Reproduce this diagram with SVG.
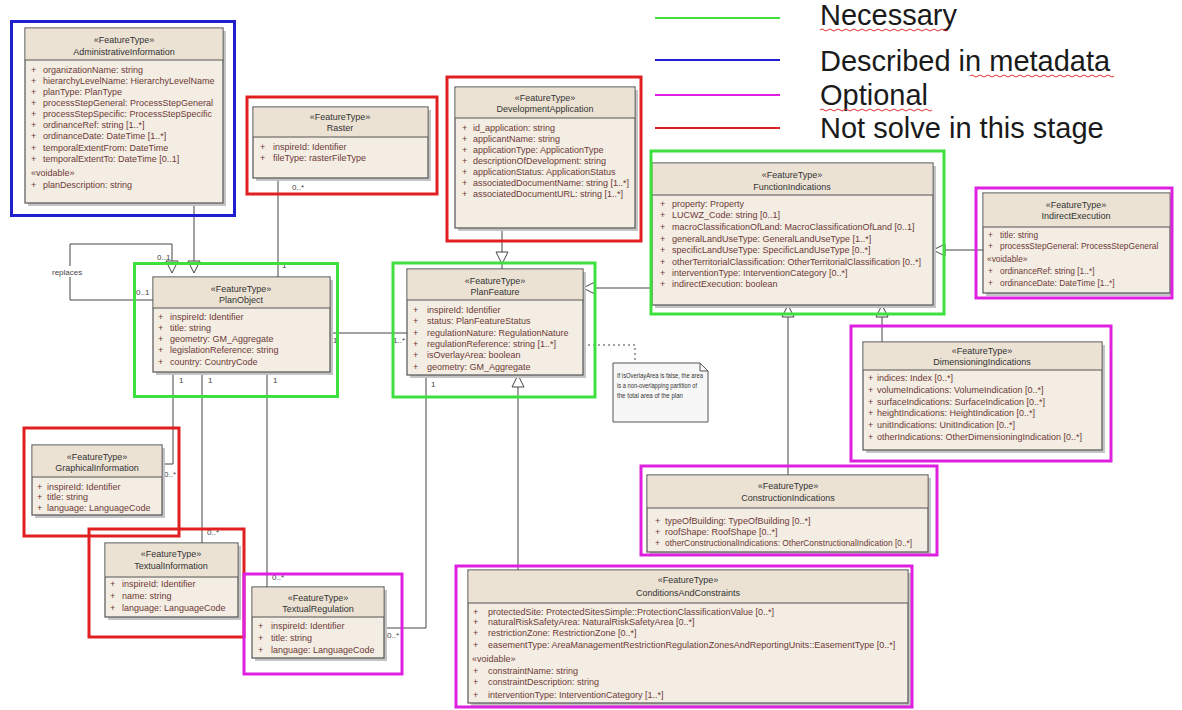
<svg xmlns="http://www.w3.org/2000/svg" width="1182" height="710" viewBox="0 0 1182 710">
<style>
.frame{fill:none;stroke-width:3}
.g{stroke:#3ee03e}.b{stroke:#1f1fd0}.m{stroke:#e020e0}.r{stroke:#e02020}
.body{fill:#f3ede4;stroke:#555;stroke-width:1.2}
.hdr{fill:#ebe2d4;stroke:none}
.sep{stroke:#555;stroke-width:1}
.sh{fill:#c4c4c4}
.st,.nm{font-family:"Liberation Sans",Arial,sans-serif;font-size:9px;fill:#333;text-anchor:middle}
.at{font-family:"Liberation Sans",Arial,sans-serif;font-size:9px;fill:#6e3a36}
.sm{font-size:8.4px}
.ln{fill:none;stroke:#444;stroke-width:1}
.dot{fill:none;stroke:#444;stroke-width:1;stroke-dasharray:2 3}
.tri{fill:#fff;stroke:#444;stroke-width:1}
.lbl{font-family:"Liberation Sans",Arial,sans-serif;font-size:8px;fill:#444}
.leg{font-family:"Liberation Sans",Arial,sans-serif;font-size:29px;fill:#1a1a1a}
.note{font-family:"Liberation Sans",Arial,sans-serif;font-size:6.5px;fill:#333}
.sq{fill:none;stroke:#e03030;stroke-width:1}
</style>
<rect width="1182" height="710" fill="#ffffff"/>

<g id="legend">
<line x1="655" y1="18" x2="780" y2="18" stroke="#3ee03e" stroke-width="2"/>
<line x1="655" y1="60" x2="780" y2="60" stroke="#1f1fd0" stroke-width="2"/>
<line x1="655" y1="95" x2="780" y2="95" stroke="#e020e0" stroke-width="2"/>
<line x1="655" y1="128" x2="780" y2="128" stroke="#e02020" stroke-width="2"/>
<text class="leg" x="820" y="25">Necessary</text>
<text class="leg" x="820" y="71">Described in metadata</text>
<text class="leg" x="820" y="105">Optional</text>
<text class="leg" x="820" y="138">Not solve in this stage</text>
<path class="sq" d="M820,30 q2,-2 4,0 t4,0 t4,0 t4,0 t4,0 t4,0 t4,0 t4,0 t4,0 t4,0 t4,0 t4,0 t4,0 t4,0 t4,0 t4,0 t4,0 t4,0 t4,0 t4,0 t4,0 t4,0 t4,0 t4,0 t4,0 t4,0 t4,0 t4,0 t4,0 t4,0 t4,0 t4,0"/>
<path class="sq" d="M970,76 q2,-2 4,0 t4,0 t4,0 t4,0 t4,0 t4,0 t4,0 t4,0 t4,0 t4,0 t4,0 t4,0 t4,0 t4,0 t4,0 t4,0 t4,0 t4,0 t4,0 t4,0 t4,0 t4,0 t4,0 t4,0 t4,0 t4,0 t4,0 t4,0 t4,0 t4,0 t4,0 t4,0 t4,0 t4,0 t4,0 t4,0"/>
<path class="sq" d="M820,110 q2,-2 4,0 t4,0 t4,0 t4,0 t4,0 t4,0 t4,0 t4,0 t4,0 t4,0 t4,0 t4,0 t4,0 t4,0 t4,0 t4,0 t4,0 t4,0 t4,0 t4,0 t4,0 t4,0 t4,0 t4,0 t4,0 t4,0 t4,0 t4,0"/>
</g>

<g id="connectors">
<path class="ln" d="M153,300 H70 V244 H172 V261"/>
<polygon class="tri" points="166,261 178,261 172,273"/>
<rect x="50" y="266" width="40" height="11" fill="#fff"/>
<text class="lbl" x="52" y="275">replaces</text>
<text class="lbl" x="157" y="260">0..1</text>
<text class="lbl" x="136" y="295">0..1</text>
<path class="ln" d="M194,203 V261"/>
<polygon class="tri" points="188,261 200,261 194,273"/>
<path class="ln" d="M278,178 V277"/>
<text class="lbl" x="292" y="190">0..*</text>
<text class="lbl" x="282" y="268">1</text>
<path class="ln" d="M502,228 V252 M502,264 V269"/>
<polygon class="tri" points="496,252 508,252 502,264"/>
<path class="ln" d="M652,288 H595"/>
<polygon class="tri" points="583,288 595,282 595,294"/>
<path class="ln" d="M983,250 H945"/>
<polygon class="tri" points="933,250 945,244 945,256"/>
<path class="ln" d="M788,475 V317"/>
<polygon class="tri" points="788,305 782,317 794,317"/>
<path class="ln" d="M882,342 V317"/>
<polygon class="tri" points="882,305 876,317 888,317"/>
<path class="ln" d="M330,333 H407"/>
<text class="lbl" x="333" y="343">1</text>
<text class="lbl" x="393" y="343">1..*</text>
<path class="dot" d="M583,345 H635 V363"/>
<path class="ln" d="M518,570 V387"/>
<polygon class="tri" points="518,375 512,387 524,387"/>
<path class="ln" d="M426,375 V628 H384"/>
<text class="lbl" x="431" y="387">1</text>
<text class="lbl" x="387" y="638">0..*</text>
<path class="ln" d="M173,372 V464 H162"/>
<text class="lbl" x="179" y="383">1</text>
<text class="lbl" x="164" y="477">0..*</text>
<path class="ln" d="M202,372 V543"/>
<text class="lbl" x="208" y="383">1</text>
<text class="lbl" x="207" y="535">0..*</text>
<path class="ln" d="M267,372 V587"/>
<text class="lbl" x="273" y="383">1</text>
<text class="lbl" x="272" y="580">0..*</text>
</g>

<g id="AdministrativeInformation">
<rect class="sh" x="28" y="31" width="198" height="175"/>
<rect class="body" x="25" y="28" width="198" height="175"/>
<rect class="hdr" x="25.6" y="28.6" width="196.8" height="31.4"/>
<line class="sep" x1="25" y1="60" x2="223" y2="60"/>
<text class="st" x="124" y="43">«FeatureType»</text>
<text class="nm" x="124" y="55">AdministrativeInformation</text>
<text class="at" y="73"><tspan x="31">+</tspan><tspan x="43">organizationName: string</tspan></text>
<text class="at" y="84"><tspan x="31">+</tspan><tspan x="43">hierarchyLevelName: HierarchyLevelName</tspan></text>
<text class="at" y="95"><tspan x="31">+</tspan><tspan x="43">planType: PlanType</tspan></text>
<text class="at" y="106"><tspan x="31">+</tspan><tspan x="43">processStepGeneral: ProcessStepGeneral</tspan></text>
<text class="at" y="117"><tspan x="31">+</tspan><tspan x="43">processStepSpecific: ProcessStepSpecific</tspan></text>
<text class="at" y="128"><tspan x="31">+</tspan><tspan x="43">ordinanceRef: string [1..*]</tspan></text>
<text class="at" y="139"><tspan x="31">+</tspan><tspan x="43">ordinanceDate: DateTime [1..*]</tspan></text>
<text class="at" y="151"><tspan x="31">+</tspan><tspan x="43">temporalExtentFrom: DateTime</tspan></text>
<text class="at" y="162"><tspan x="31">+</tspan><tspan x="43">temporalExtentTo: DateTime [0..1]</tspan></text>
<text class="at" x="31" y="176">«voidable»</text>
<text class="at" y="188"><tspan x="31">+</tspan><tspan x="43">planDescription: string</tspan></text>
</g>

<g id="Raster">
<rect class="sh" x="256" y="110" width="175" height="71"/>
<rect class="body" x="253" y="107" width="175" height="71"/>
<rect class="hdr" x="253.6" y="107.6" width="173.8" height="29.4"/>
<line class="sep" x1="253" y1="137" x2="428" y2="137"/>
<text class="st" x="340" y="120">«FeatureType»</text>
<text class="nm" x="340" y="131">Raster</text>
<text class="at" y="150"><tspan x="260">+</tspan><tspan x="273">inspireId: Identifier</tspan></text>
<text class="at" y="161"><tspan x="260">+</tspan><tspan x="273">fileType: rasterFileType</tspan></text>
</g>

<g id="DevelopmentApplication">
<rect class="sh" x="458" y="90" width="180" height="141"/>
<rect class="body" x="455" y="87" width="180" height="141"/>
<rect class="hdr" x="455.6" y="87.6" width="178.8" height="30.4"/>
<line class="sep" x1="455" y1="118" x2="635" y2="118"/>
<text class="st" x="545" y="101">«FeatureType»</text>
<text class="nm" x="545" y="112">DevelopmentApplication</text>
<text class="at" y="131"><tspan x="462">+</tspan><tspan x="473">id_application: string</tspan></text>
<text class="at" y="142"><tspan x="462">+</tspan><tspan x="473">applicantName: string</tspan></text>
<text class="at" y="153"><tspan x="462">+</tspan><tspan x="473">applicationType: ApplicationType</tspan></text>
<text class="at" y="164"><tspan x="462">+</tspan><tspan x="473">descriptionOfDevelopment: string</tspan></text>
<text class="at" y="175"><tspan x="462">+</tspan><tspan x="473">applicationStatus: ApplicationStatus</tspan></text>
<text class="at" y="186"><tspan x="462">+</tspan><tspan x="473">associatedDocumentName: string [1..*]</tspan></text>
<text class="at" y="197"><tspan x="462">+</tspan><tspan x="473">associatedDocumentURL: string [1..*]</tspan></text>
</g>

<g id="FunctionIndications">
<rect class="sh" x="655" y="166" width="281" height="142"/>
<rect class="body" x="652" y="163" width="281" height="142"/>
<rect class="hdr" x="652.6" y="163.6" width="279.8" height="31.4"/>
<line class="sep" x1="652" y1="195" x2="933" y2="195"/>
<text class="st" x="792" y="178">«FeatureType»</text>
<text class="nm" x="792" y="190">FunctionIndications</text>
<text class="at" y="207"><tspan x="660">+</tspan><tspan x="672">property: Property</tspan></text>
<text class="at" y="218"><tspan x="660">+</tspan><tspan x="672">LUCWZ_Code: string [0..1]</tspan></text>
<text class="at" y="230"><tspan x="660">+</tspan><tspan x="672">macroClassificationOfLand: MacroClassificationOfLand [0..1]</tspan></text>
<text class="at" y="242"><tspan x="660">+</tspan><tspan x="672">generalLandUseType: GeneralLandUseType [1..*]</tspan></text>
<text class="at" y="253"><tspan x="660">+</tspan><tspan x="672">specificLandUseType: SpecificLandUseType [0..*]</tspan></text>
<text class="at" y="265"><tspan x="660">+</tspan><tspan x="672">otherTerritorialClassification: OtherTerritorialClassification [0..*]</tspan></text>
<text class="at" y="276"><tspan x="660">+</tspan><tspan x="672">interventionType: InterventionCategory [0..*]</tspan></text>
<text class="at" y="287"><tspan x="660">+</tspan><tspan x="672">indirectExecution: boolean</tspan></text>
</g>

<g id="IndirectExecution">
<rect class="sh" x="986" y="196" width="187" height="100"/>
<rect class="body" x="983" y="193" width="187" height="100"/>
<rect class="hdr" x="983.6" y="193.6" width="185.8" height="33.4"/>
<line class="sep" x1="983" y1="227" x2="1170" y2="227"/>
<text class="st" x="1076" y="208">«FeatureType»</text>
<text class="nm" x="1076" y="219">IndirectExecution</text>
<text class="at sm" y="238"><tspan x="988">+</tspan><tspan x="1000">title: string</tspan></text>
<text class="at sm" y="249"><tspan x="988">+</tspan><tspan x="1000">processStepGeneral: ProcessStepGeneral</tspan></text>
<text class="at sm" x="987" y="262">«voidable»</text>
<text class="at sm" y="274"><tspan x="988">+</tspan><tspan x="1000">ordinanceRef: string [1..*]</tspan></text>
<text class="at sm" y="286"><tspan x="988">+</tspan><tspan x="1000">ordinanceDate: DateTime [1..*]</tspan></text>
</g>

<g id="PlanObject">
<rect class="sh" x="156" y="280" width="177" height="95"/>
<rect class="body" x="153" y="277" width="177" height="95"/>
<rect class="hdr" x="153.6" y="277.6" width="175.8" height="30.4"/>
<line class="sep" x1="153" y1="308" x2="330" y2="308"/>
<text class="st" x="241" y="292">«FeatureType»</text>
<text class="nm" x="241" y="303">PlanObject</text>
<text class="at" y="320"><tspan x="158">+</tspan><tspan x="170">inspireId: Identifier</tspan></text>
<text class="at" y="331"><tspan x="158">+</tspan><tspan x="170">title: string</tspan></text>
<text class="at" y="342"><tspan x="158">+</tspan><tspan x="170">geometry: GM_Aggregate</tspan></text>
<text class="at" y="353"><tspan x="158">+</tspan><tspan x="170">legislationReference: string</tspan></text>
<text class="at" y="365"><tspan x="158">+</tspan><tspan x="170">country: CountryCode</tspan></text>
</g>

<g id="PlanFeature">
<rect class="sh" x="410" y="272" width="176" height="106"/>
<rect class="body" x="407" y="269" width="176" height="106"/>
<rect class="hdr" x="407.6" y="269.6" width="174.8" height="30.4"/>
<line class="sep" x1="407" y1="300" x2="583" y2="300"/>
<text class="st" x="495" y="284">«FeatureType»</text>
<text class="nm" x="495" y="295">PlanFeature</text>
<text class="at" y="313"><tspan x="413">+</tspan><tspan x="427">inspireId: Identifier</tspan></text>
<text class="at" y="324"><tspan x="413">+</tspan><tspan x="427">status: PlanFeatureStatus</tspan></text>
<text class="at" y="336"><tspan x="413">+</tspan><tspan x="427">regulationNature: RegulationNature</tspan></text>
<text class="at" y="347"><tspan x="413">+</tspan><tspan x="427">regulationReference: string [1..*]</tspan></text>
<text class="at" y="358"><tspan x="413">+</tspan><tspan x="427">isOverlayArea: boolean</tspan></text>
<text class="at" y="370"><tspan x="413">+</tspan><tspan x="427">geometry: GM_Aggregate</tspan></text>
</g>

<g id="Note">
<path d="M613,363 H700 L708,371 V422 H613 Z" fill="#f7f7f7" stroke="#555" stroke-width="1"/>
<path d="M700,363 V371 H708" fill="none" stroke="#555" stroke-width="1"/>
<text class="note" x="617" y="378" textLength="86" lengthAdjust="spacingAndGlyphs">If isOverlayArea is false, the area</text>
<text class="note" x="617" y="388" textLength="80" lengthAdjust="spacingAndGlyphs">is a non-overlapping partition of</text>
<text class="note" x="617" y="398" textLength="66" lengthAdjust="spacingAndGlyphs">the total area of the plan</text>
</g>

<g id="DimensioningIndications">
<rect class="sh" x="866" y="345" width="239" height="108"/>
<rect class="body" x="863" y="342" width="239" height="108"/>
<rect class="hdr" x="863.6" y="342.6" width="237.8" height="27.4"/>
<line class="sep" x1="863" y1="370" x2="1102" y2="370"/>
<text class="st" x="982" y="354">«FeatureType»</text>
<text class="nm" x="982" y="365">DimensioningIndications</text>
<text class="at" y="381"><tspan x="868">+</tspan><tspan x="877">indices: Index [0..*]</tspan></text>
<text class="at" y="393"><tspan x="868">+</tspan><tspan x="877">volumeIndications: VolumeIndication [0..*]</tspan></text>
<text class="at" y="405"><tspan x="868">+</tspan><tspan x="877">surfaceIndications: SurfaceIndication [0..*]</tspan></text>
<text class="at" y="416"><tspan x="868">+</tspan><tspan x="877">heightIndications: HeightIndication [0..*]</tspan></text>
<text class="at" y="428"><tspan x="868">+</tspan><tspan x="877">unitIndications: UnitIndication [0..*]</tspan></text>
<text class="at" y="440"><tspan x="868">+</tspan><tspan x="877">otherIndications: OtherDimensioningIndication [0..*]</tspan></text>
</g>

<g id="ConstructionIndications">
<rect class="sh" x="650" y="478" width="281" height="77"/>
<rect class="body" x="647" y="475" width="281" height="77"/>
<rect class="hdr" x="647.6" y="475.6" width="279.8" height="32.4"/>
<line class="sep" x1="647" y1="508" x2="928" y2="508"/>
<text class="st" x="788" y="489">«FeatureType»</text>
<text class="nm" x="788" y="501">ConstructionIndications</text>
<text class="at" y="524"><tspan x="655">+</tspan><tspan x="665">typeOfBuilding: TypeOfBuilding [0..*]</tspan></text>
<text class="at" y="535"><tspan x="655">+</tspan><tspan x="665">roofShape: RoofShape [0..*]</tspan></text>
<text class="at sm" y="546"><tspan x="655">+</tspan><tspan x="665">otherConstructionalIndications: OtherConstructionalIndication [0..*]</tspan></text>
</g>

<g id="ConditionsAndConstraints">
<rect class="sh" x="471" y="573" width="440" height="133"/>
<rect class="body" x="468" y="570" width="440" height="133"/>
<rect class="hdr" x="468.6" y="570.6" width="438.8" height="32.4"/>
<line class="sep" x1="468" y1="603" x2="908" y2="603"/>
<text class="st" x="688" y="583">«FeatureType»</text>
<text class="nm" x="688" y="596">ConditionsAndConstraints</text>
<text class="at" y="615"><tspan x="473">+</tspan><tspan x="488">protectedSite: ProtectedSitesSimple::ProtectionClassificationValue [0..*]</tspan></text>
<text class="at" y="625"><tspan x="473">+</tspan><tspan x="488">naturalRiskSafetyArea: NaturalRiskSafetyArea [0..*]</tspan></text>
<text class="at" y="636"><tspan x="473">+</tspan><tspan x="488">restrictionZone: RestrictionZone [0..*]</tspan></text>
<text class="at" y="648"><tspan x="473">+</tspan><tspan x="488">easementType: AreaManagementRestrictionRegulationZonesAndReportingUnits::EasementType [0..*]</tspan></text>
<text class="at" x="472" y="662">«voidable»</text>
<text class="at" y="674"><tspan x="473">+</tspan><tspan x="488">constraintName: string</tspan></text>
<text class="at" y="685"><tspan x="473">+</tspan><tspan x="488">constraintDescription: string</tspan></text>
<text class="at" y="698"><tspan x="473">+</tspan><tspan x="488">interventionType: InterventionCategory [1..*]</tspan></text>
</g>

<g id="TextualRegulation">
<rect class="sh" x="255" y="590" width="132" height="71"/>
<rect class="body" x="252" y="587" width="132" height="71"/>
<rect class="hdr" x="252.6" y="587.6" width="130.8" height="29.4"/>
<line class="sep" x1="252" y1="617" x2="384" y2="617"/>
<text class="st" x="318" y="601">«FeatureType»</text>
<text class="nm" x="318" y="612">TextualRegulation</text>
<text class="at" y="629"><tspan x="258">+</tspan><tspan x="271">inspireId: Identifier</tspan></text>
<text class="at" y="641"><tspan x="258">+</tspan><tspan x="271">title: string</tspan></text>
<text class="at" y="653"><tspan x="258">+</tspan><tspan x="271">language: LanguageCode</tspan></text>
</g>

<g id="GraphicalInformation">
<rect class="sh" x="35" y="448" width="130" height="70"/>
<rect class="body" x="32" y="445" width="130" height="70"/>
<rect class="hdr" x="32.6" y="445.6" width="128.8" height="31.4"/>
<line class="sep" x1="32" y1="477" x2="162" y2="477"/>
<text class="st" x="97" y="460">«FeatureType»</text>
<text class="nm" x="97" y="471">GraphicalInformation</text>
<text class="at" y="490"><tspan x="37">+</tspan><tspan x="47">inspireId: Identifier</tspan></text>
<text class="at" y="500"><tspan x="37">+</tspan><tspan x="47">title: string</tspan></text>
<text class="at" y="511"><tspan x="37">+</tspan><tspan x="47">language: LanguageCode</tspan></text>
</g>

<g id="TextualInformation">
<rect class="sh" x="108" y="546" width="133" height="74"/>
<rect class="body" x="105" y="543" width="133" height="74"/>
<rect class="hdr" x="105.6" y="543.6" width="131.8" height="33.4"/>
<line class="sep" x1="105" y1="577" x2="238" y2="577"/>
<text class="st" x="171" y="557">«FeatureType»</text>
<text class="nm" x="171" y="569">TextualInformation</text>
<text class="at" y="587"><tspan x="110">+</tspan><tspan x="122">inspireId: Identifier</tspan></text>
<text class="at" y="599"><tspan x="110">+</tspan><tspan x="122">name: string</tspan></text>
<text class="at" y="611"><tspan x="110">+</tspan><tspan x="122">language: LanguageCode</tspan></text>
</g>

<g id="frames">
<rect class="frame b" x="11.5" y="21.5" width="223" height="194"/>
<rect class="frame r" x="247" y="97" width="190" height="97"/>
<rect class="frame r" x="447" y="77" width="194" height="164"/>
<rect class="frame g" x="651" y="151" width="293" height="163"/>
<rect class="frame m" x="976" y="188" width="196" height="110"/>
<rect class="frame g" x="134.5" y="263.5" width="203" height="133"/>
<rect class="frame g" x="393" y="263" width="202" height="134"/>
<rect class="frame m" x="851" y="326" width="260" height="135"/>
<rect class="frame m" x="641" y="466" width="296" height="89"/>
<rect class="frame r" x="24" y="428" width="155" height="108"/>
<rect class="frame r" x="89" y="529" width="155" height="108"/>
<rect class="frame m" x="244" y="574" width="158" height="100"/>
<rect class="frame m" x="456" y="566" width="456" height="141"/>
</g>
</svg>
